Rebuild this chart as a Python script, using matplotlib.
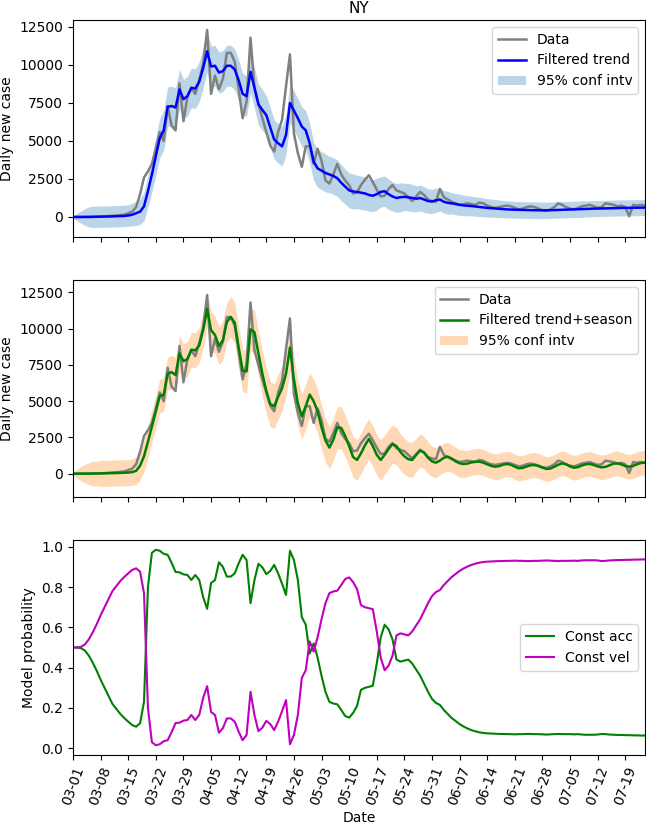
import numpy as np
import pandas as pd
import matplotlib
matplotlib.use("Agg")
import matplotlib.pyplot as plt
import matplotlib.dates as mdates

start_date = "2020-03-01"
n_days = 146

data_cases = [
    0, 0, 0, 2, 5, 10, 15, 25, 40, 60,
    80, 100, 130, 150, 250, 350, 650, 1500, 2600, 3000,
    3500, 4500, 5600, 5000, 7300, 6000, 5700, 8800, 6300, 7900,
    8500, 8100, 9000, 10100, 12300, 8100, 9300, 8400, 9100, 10800,
    10800, 10200, 8400, 6500, 7600, 11800, 8500, 7500, 6500, 5600,
    4700, 4300, 5600, 6400, 8600, 10700, 5500, 4200, 3300, 4650,
    4650, 3500, 4500, 3700, 2400, 2200, 2800, 3500, 2800, 2400,
    2100, 1550, 1600, 2100, 2450, 2750, 2300, 1800, 1350, 1400,
    1850, 2100, 1750, 1650, 1550, 1300, 1050, 1350, 1650, 1450,
    1150, 1050, 1000, 1850, 1300, 1150, 1000, 900, 800, 850,
    900, 850, 800, 950, 900, 750, 650, 600, 650, 700,
    750, 700, 600, 500, 550, 650, 700, 650, 550, 450,
    400, 500, 650, 900, 800, 650, 550, 500, 600, 700,
    750, 800, 700, 600, 650, 900, 850, 800, 700, 750,
    650, 50, 800, 750, 800, 750,
]

trend = [
    0, 0, 0, 0, 5, 10, 15, 20, 25, 30,
    40, 50, 60, 70, 100, 150, 250, 350, 700, 1700,
    2800, 4000, 5200, 5700, 7250, 7300, 7200, 8400, 7750, 7950,
    8500, 8450, 8900, 9800, 10900, 9900, 9950, 9500, 9600, 9950,
    9950, 9700, 9000, 8100, 7950, 9550, 8500, 7400, 7050, 6700,
    5900, 5100, 4850, 4650, 5400, 7500, 7000, 6500, 5950, 5700,
    4850, 3650, 3200, 3050, 2900, 2800, 2700, 2550, 2250, 2000,
    1750, 1680, 1650, 1600, 1550, 1450, 1400, 1500, 1650, 1700,
    1500, 1350, 1250, 1300, 1320, 1300, 1250, 1200, 1250, 1150,
    1050, 1020, 1100, 1150, 1000, 930, 900, 850, 800, 760,
    740, 720, 690, 660, 630, 600, 580, 560, 540, 520,
    500, 490, 480, 470, 460, 455, 450, 445, 440, 440,
    440, 445, 455, 465, 475, 485, 495, 500, 510, 520,
    530, 540, 550, 555, 565, 570, 575, 580, 590, 600,
    605, 600, 605, 610, 615, 620,
]

trend_halfwidth = [
    50, 250, 400, 550, 650, 700, 700, 700, 700, 700,
    700, 700, 700, 700, 700, 750, 800, 850, 950, 1050,
    1150, 1250, 1300, 1300, 1300, 1300, 1300, 1300, 1300, 1300,
    1300, 1300, 1300, 1300, 1350, 1350, 1350, 1350, 1350, 1350,
    1350, 1350, 1350, 1350, 1350, 1350, 1350, 1350, 1350, 1300,
    1300, 1300, 1300, 1300, 1300, 1300, 1300, 1300, 1300, 1300,
    1300, 1250, 1250, 1250, 1250, 1200, 1200, 1200, 1200, 1150,
    1150, 1150, 1100, 1100, 1100, 1050, 1050, 1050, 1000, 1000,
    1000, 950, 950, 950, 900, 900, 900, 850, 850, 850,
    800, 800, 800, 750, 750, 750, 700, 700, 700, 680,
    660, 650, 640, 630, 620, 610, 600, 590, 580, 570,
    560, 560, 550, 550, 550, 550, 550, 550, 550, 550,
    540, 540, 540, 540, 540, 540, 540, 540, 540, 540,
    530, 530, 530, 530, 530, 530, 530, 530, 530, 530,
    530, 530, 530, 530, 530, 530,
]

trend_season = [
    0, 0, 0, 0, 5, 10, 15, 20, 25, 30,
    35, 45, 55, 65, 80, 110, 200, 550, 1200, 2200,
    3250, 4300, 5350, 5450, 6900, 7000, 6800, 8300, 7750, 7900,
    8550, 8500, 8850, 9900, 11350, 9900, 9550, 8800, 9200, 10450,
    10800, 10400, 8700, 7100, 7050, 9950, 9750, 8300, 6900, 5700,
    4800, 4650, 5300, 5900, 6900, 8700, 6500, 4850, 3950, 4650,
    5450, 5000, 4300, 3200, 2300, 1800, 2350, 3200, 3150, 2600,
    1900, 1150, 950, 1400, 1950, 2400, 1900, 1300, 950, 1300,
    1700, 2050, 1900, 1500, 1200, 1000, 950, 1300, 1600, 1450,
    1100, 850, 760, 900, 1100, 1170, 1050, 850, 720, 670,
    700, 780, 830, 830, 760, 650, 540, 480, 520, 620,
    670, 620, 480, 370, 400, 500, 580, 600, 530, 420,
    330, 350, 480, 620, 710, 650, 500, 410, 450, 570,
    650, 670, 600, 500, 440, 470, 580, 690, 710, 640,
    530, 480, 540, 650, 740, 760,
]

season_halfwidth = [
    100, 300, 500, 650, 750, 850, 850, 900, 900, 900,
    900, 900, 900, 900, 900, 900, 950, 1000, 1050, 1100,
    1100, 1150, 1150, 1150, 1150, 1150, 1200, 1200, 1200, 1200,
    1200, 1200, 1200, 1200, 1250, 1250, 1300, 1300, 1350, 1350,
    1400, 1400, 1450, 1450, 1500, 1500, 1500, 1550, 1550, 1550,
    1550, 1550, 1550, 1550, 1550, 1550, 1550, 1550, 1550, 1550,
    1500, 1500, 1500, 1500, 1500, 1450, 1450, 1450, 1450, 1450,
    1400, 1400, 1400, 1400, 1400, 1400, 1400, 1400, 1400, 1350,
    1350, 1300, 1300, 1250, 1250, 1200, 1200, 1150, 1150, 1100,
    1100, 1050, 1050, 1000, 1000, 1000, 950, 950, 950, 950,
    900, 900, 900, 900, 900, 900, 900, 880, 880, 880,
    870, 870, 870, 870, 860, 860, 860, 860, 860, 860,
    850, 850, 850, 850, 850, 850, 850, 850, 850, 850,
    850, 850, 850, 850, 850, 850, 850, 850, 850, 850,
    850, 850, 850, 850, 850, 850,
]

prob_const_acc = [
    0.5, 0.5, 0.497, 0.485, 0.46, 0.425, 0.385, 0.34, 0.30, 0.26,
    0.22, 0.195, 0.17, 0.15, 0.132, 0.115, 0.107, 0.124, 0.23, 0.80,
    0.97, 0.985, 0.98, 0.965, 0.96, 0.92, 0.875, 0.873, 0.863, 0.86,
    0.835, 0.86, 0.835, 0.75, 0.692, 0.82, 0.835, 0.923, 0.90, 0.852,
    0.852, 0.868, 0.918, 0.96, 0.934, 0.72, 0.835, 0.915, 0.898, 0.864,
    0.88, 0.91, 0.868, 0.816, 0.761, 0.98, 0.934, 0.835, 0.651, 0.613,
    0.47, 0.52, 0.45, 0.36, 0.28, 0.23, 0.222, 0.218, 0.19, 0.16,
    0.152, 0.175, 0.21, 0.29, 0.30, 0.305, 0.31, 0.42, 0.55, 0.613,
    0.59, 0.54, 0.44, 0.43, 0.435, 0.44, 0.42, 0.39, 0.36, 0.32,
    0.28, 0.245, 0.225, 0.215, 0.19, 0.17, 0.15, 0.135, 0.12, 0.108,
    0.098, 0.09, 0.084, 0.079, 0.076, 0.074, 0.073, 0.072, 0.071, 0.071,
    0.07, 0.07, 0.069, 0.07, 0.07, 0.071, 0.071, 0.07, 0.07, 0.069,
    0.068, 0.069, 0.07, 0.071, 0.07, 0.07, 0.07, 0.069, 0.07, 0.068,
    0.067, 0.067, 0.067, 0.068, 0.071, 0.07, 0.068, 0.067, 0.066, 0.066,
    0.065, 0.065, 0.064, 0.064, 0.063, 0.063,
]

dates = pd.date_range(start_date, periods=n_days, freq="D")
data_cases = np.array(data_cases, float)
trend = np.array(trend, float)
trend_hw = np.array(trend_halfwidth, float)
trend_season = np.array(trend_season, float)
season_hw = np.array(season_halfwidth, float)
acc = np.array(prob_const_acc, float)
vel = 1.0 - acc

fig = plt.figure(figsize=(6.46, 8.25), dpi=100)
L, W = 73 / 646, 572 / 646
ax1 = fig.add_axes([L, (825 - 237) / 825, W, 217 / 825])
ax2 = fig.add_axes([L, (825 - 497) / 825, W, 217 / 825], sharex=ax1)
ax3 = fig.add_axes([L, (825 - 755) / 825, W, 215 / 825], sharex=ax1)

ax1.plot(dates, data_cases, color="gray", lw=1.8, label="Data")
ax1.plot(dates, trend, color="blue", lw=1.8, label="Filtered trend")
ax1.fill_between(dates, trend - trend_hw, trend + trend_hw, color="C0",
                 alpha=0.3, lw=0, label="95% conf intv")
ax1.set_ylabel("Daily new case")
ax1.set_title("NY", fontsize=11, pad=5)
ax1.legend(loc="upper right")
ax1.set_ylim(-1316, 12960)

ax2.plot(dates, data_cases, color="gray", lw=1.8, label="Data")
ax2.plot(dates, trend_season, color="green", lw=1.8, label="Filtered trend+season")
ax2.fill_between(dates, trend_season - season_hw, trend_season + season_hw,
                 color="C1", alpha=0.3, lw=0, label="95% conf intv")
ax2.set_ylabel("Daily new case")
ax2.legend(loc="upper right")
ax2.set_ylim(-1606, 13350)

ax3.plot(dates, acc, color="green", lw=1.5, label="Const acc")
ax3.plot(dates, vel, color="m", lw=1.5, label="Const vel")
ax3.set_ylabel("Model probability")
ax3.set_xlabel("Date", labelpad=2.5)
ax3.legend(loc="center right")

ticks = pd.date_range(start_date, dates[-1], freq="7D")
ax3.set_xticks(ticks)
ax3.xaxis.set_major_formatter(mdates.DateFormatter("%m-%d"))
ax3.set_xlim(dates[0], dates[-1])
for ax in (ax1, ax2):
    plt.setp(ax.get_xticklabels(), visible=False)
plt.setp(ax3.get_xticklabels(), rotation=70)

fig.savefig("out.png", dpi=100)
